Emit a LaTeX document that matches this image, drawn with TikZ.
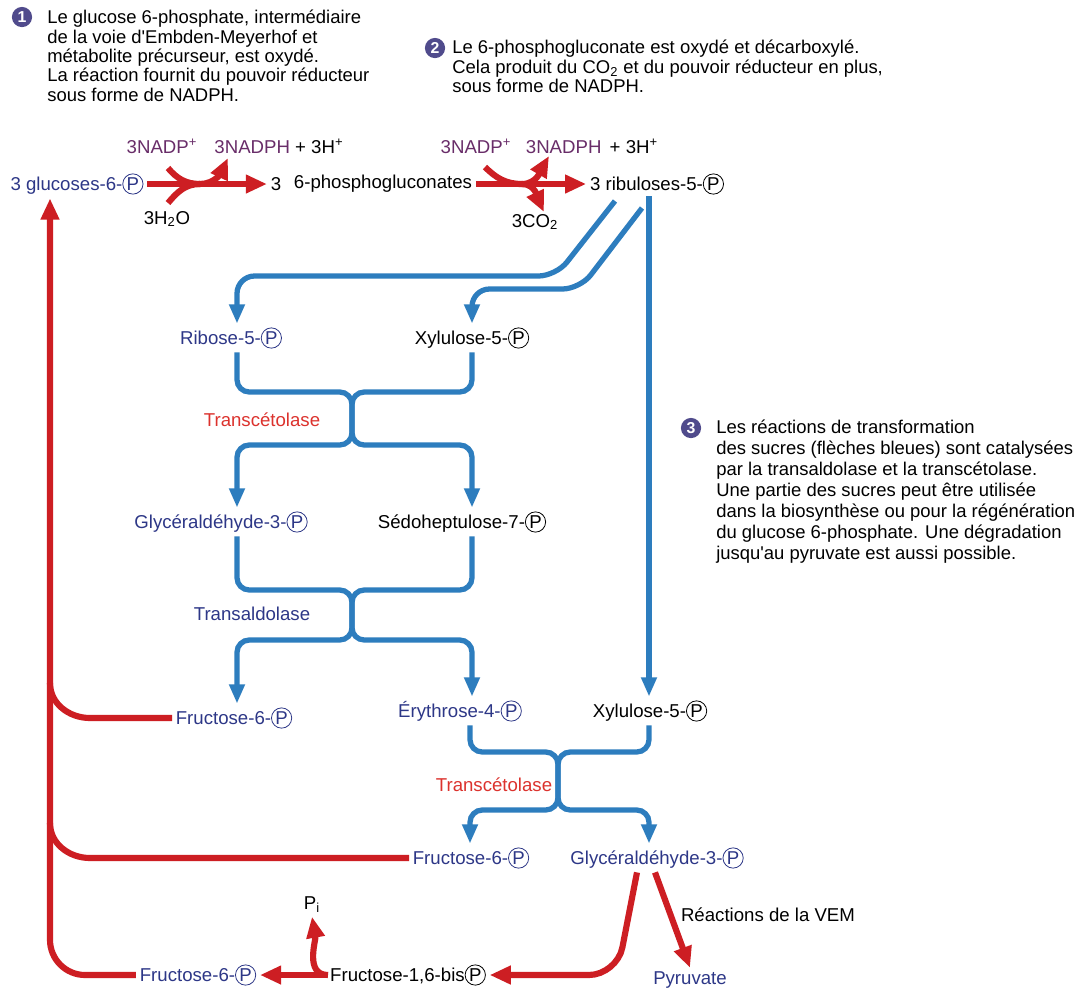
\documentclass[tikz,border=0pt]{standalone}
\usepackage{fontspec}
\setmainfont{Liberation Sans}
\usepackage{tikz}
\usetikzlibrary{arrows.meta, calc}

\definecolor{navy}{RGB}{45,55,135}
\definecolor{purp}{RGB}{105,45,105}
\definecolor{arrred}{RGB}{205,30,35}
\definecolor{lblred}{RGB}{220,50,45}
\definecolor{arrblue}{RGB}{45,125,190}
\definecolor{numcol}{RGB}{80,75,140}

% circled P for the phosphate groups
\newcommand{\Pcirc}{\tikz[baseline=-0.36em]\node[circle,draw,line width=0.45pt,inner sep=0.5pt]{P};}

\tikzset{
    lbl/.style={font=\fontsize{10.6}{12}\selectfont, inner sep=2pt},
    note/.style={font=\fontsize{10.5}{11}\selectfont, align=left, anchor=north west, inner sep=0pt},
    num/.style={circle, fill=numcol, text=white, font=\bfseries\fontsize{9}{9}\selectfont, inner sep=0pt, minimum size=11.5pt},
    bluearrow/.style={draw=arrblue, line width=3pt, rounded corners=7pt, -{Triangle[length=11pt,width=8.5pt]}},
    redarrow/.style={draw=arrred, line width=3.5pt, -{Triangle[length=12pt,width=10pt]}},
    redline/.style={draw=arrred, line width=3.5pt}
}

\begin{document}
\begin{tikzpicture}[x=0.02cm, y=0.02cm]
    \fill[white] (0,0) rectangle (1083,-992);

    % Notes
    \node[num] (c1) at (22,-17) {1};
    \node[note] (t1) at (47,-10) {Le glucose 6-phosphate, intermédiaire\\de la voie d\textquotesingle Embden-Meyerhof et\\métabolite précurseur, est oxydé.\\La réaction fournit du pouvoir réducteur\\sous forme de NADPH.};
    \node[num] (c2) at (435,-48) {2};
    \node[note] (t2) at (452,-40) {Le 6-phosphogluconate est oxydé et décarboxylé.\\Cela produit du CO\textsubscript{2} et du pouvoir réducteur en plus,\\sous forme de NADPH.};
    \node[num] (c3) at (691,-428) {3};
    \node[note, font=\fontsize{10.5}{11.9}\selectfont] (t3) at (716,-420) {Les réactions de transformation\\des sucres (flèches bleues) sont catalysées\\par la transaldolase et la transcétolase.\\Une partie des sucres peut être utilisée\\dans la biosynthèse ou pour la régénération\\du glucose 6-phosphate. Une dégradation\\jusqu\textquotesingle au pyruvate est aussi possible.};

    % Oxidative part
    \node[lbl, text=navy] (g6p) at (77,-184) {3 glucoses-6-\Pcirc};
    \node[lbl] (n3) at (276,-184) {3};
    \node[lbl] (pgl) at (383,-184) {6-phosphogluconates};
    \node[lbl] (ru5p) at (657,-184) {3 ribuloses-5-\Pcirc};
    \node[lbl, text=purp] (nadp1) at (162,-146) {3NADP\textsuperscript{+}};
    \node[lbl] (nadph1) at (279,-146) {\textcolor{purp}{3NADPH} + 3H\textsuperscript{+}};
    \node[lbl] (h2o) at (167,-219) {3H\textsubscript{2}O};
    \node[lbl, text=purp] (nadp2) at (476,-146) {3NADP\textsuperscript{+}};
    \node[lbl] (nadph2) at (592,-146) {\textcolor{purp}{3NADPH} \,+ 3H\textsuperscript{+}};
    \node[lbl] (co2) at (535,-222) {3CO\textsubscript{2}};

    \coordinate (r1) at (200,-184);
    \coordinate (r2) at (522,-184);
    \draw[redarrow] (g6p.east) -- (n3.west);
    \draw[redline] (168,-168) to[out=-50,in=180] (r1);
    \draw[redline] (168,-203) to[out=50,in=180] (r1);
    \draw[redarrow] (r1) to[out=0,in=-115] (228,-158);
    \draw[redarrow] (pgl.east) -- (ru5p.west);
    \draw[redline] (485,-167) to[out=-45,in=180] (r2);
    \draw[redarrow] (r2) to[out=0,in=-120] (549,-156);
    \draw[redarrow] (r2) to[out=0,in=115] (544,-212);

    % Sugar rearrangements
    \node[lbl, text=navy] (rib) at (231,-338) {Ribose-5-\Pcirc};
    \node[lbl] (xylA) at (472,-338) {Xylulose-5-\Pcirc};
    \node[lbl, text=navy] (glyA) at (221,-522) {Glycéraldéhyde-3-\Pcirc};
    \node[lbl] (sedo) at (462,-522) {Sédoheptulose-7-\Pcirc};
    \node[lbl, text=navy] (f6pA) at (234,-718) {Fructose-6-\Pcirc};
    \node[lbl, text=navy] (ery) at (460,-711) {Érythrose-4-\Pcirc};
    \node[lbl] (xylB) at (650,-711) {Xylulose-5-\Pcirc};
    \node[lbl, text=navy] (f6pB) at (471,-858) {Fructose-6-\Pcirc};
    \node[lbl, text=navy] (glyB) at (657,-858) {Glycéraldéhyde-3-\Pcirc};
    \node[lbl, text=lblred] (tk1) at (262,-420) {Transcétolase};
    \node[lbl, text=navy] (ta) at (252,-614) {Transaldolase};
    \node[lbl, text=lblred] (tk2) at (494,-785) {Transcétolase};

    \coordinate (cL) at (237,0);
    \coordinate (cR) at (472,0);
    \coordinate (cE) at (470,0);
    \coordinate (cV) at (649,0);
    \coordinate (m1) at (352,-392);
    \coordinate (s1) at (352,-445);
    \coordinate (m2) at (352,-590);
    \coordinate (s2) at (352,-640);
    \coordinate (m3) at (558,-752);
    \coordinate (s3) at (558,-810);

    \draw[bluearrow, rounded corners=10pt] (615,-201) -- (556,-276) -- (cL |- 0,-276) -- (rib.north -| cL);
    \draw[bluearrow, rounded corners=10pt] (642,-208) -- (580,-289) -- (cR |- 0,-289) -- (xylA.north -| cR);
    \draw[bluearrow] (649,-196) -- (xylB.north -| cV);

    \draw[bluearrow] (rib.south -| cL) |- (m1) -- (s1) -| (glyA.north -| cL);
    \draw[bluearrow] (xylA.south -| cR) |- (m1) -- (s1) -| (sedo.north -| cR);
    \draw[bluearrow] (glyA.south -| cL) |- (m2) -- (s2) -| (f6pA.north -| cL);
    \draw[bluearrow] (sedo.south -| cR) |- (m2) -- (s2) -| (ery.north -| cR);
    \draw[bluearrow] (ery.south -| cE) |- (m3) -- (s3) -| (f6pB.north -| cE);
    \draw[bluearrow] (xylB.south -| cV) |- (m3) -- (s3) -| (glyB.north -| cV);

    % Return to glucose 6-phosphate
    \node[lbl, text=navy] (f6pC) at (198,-975) {Fructose-6-\Pcirc};
    \node[lbl] (fbis) at (408,-975) {Fructose-1,6-bis\Pcirc};
    \node[lbl] (pi) at (312,-905) {P\textsubscript{i}};
    \node[lbl, text=navy] (pyr) at (690,-980) {Pyruvate};
    \node[lbl] (vem) at (768,-915) {Réactions de la VEM};

    \coordinate (lx) at (50,-975);
    \coordinate (bx) at (90,0);
    \draw[redarrow, rounded corners=20pt] (f6pC.west) -- (lx) -- (lx |- g6p.south);
    \foreach \n in {f6pA, f6pB} {
        \draw[redline] (\n.west) -- (\n.west -| bx) to[out=180,in=-90] ++(-40,35);
    }
    \draw[redarrow, rounded corners=16pt] ($(glyB.south)+(-20,0)$) -- (617,-975) -- (fbis.east);
    \draw[redarrow] ($(glyB.south)+(-2,0)$) -- (pyr.north);
    \draw[redarrow] (fbis.west) -- (f6pC.east);
    \draw[redarrow] (328,-975) to[out=180,in=-80] (pi.south);
\end{tikzpicture}
\end{document}
